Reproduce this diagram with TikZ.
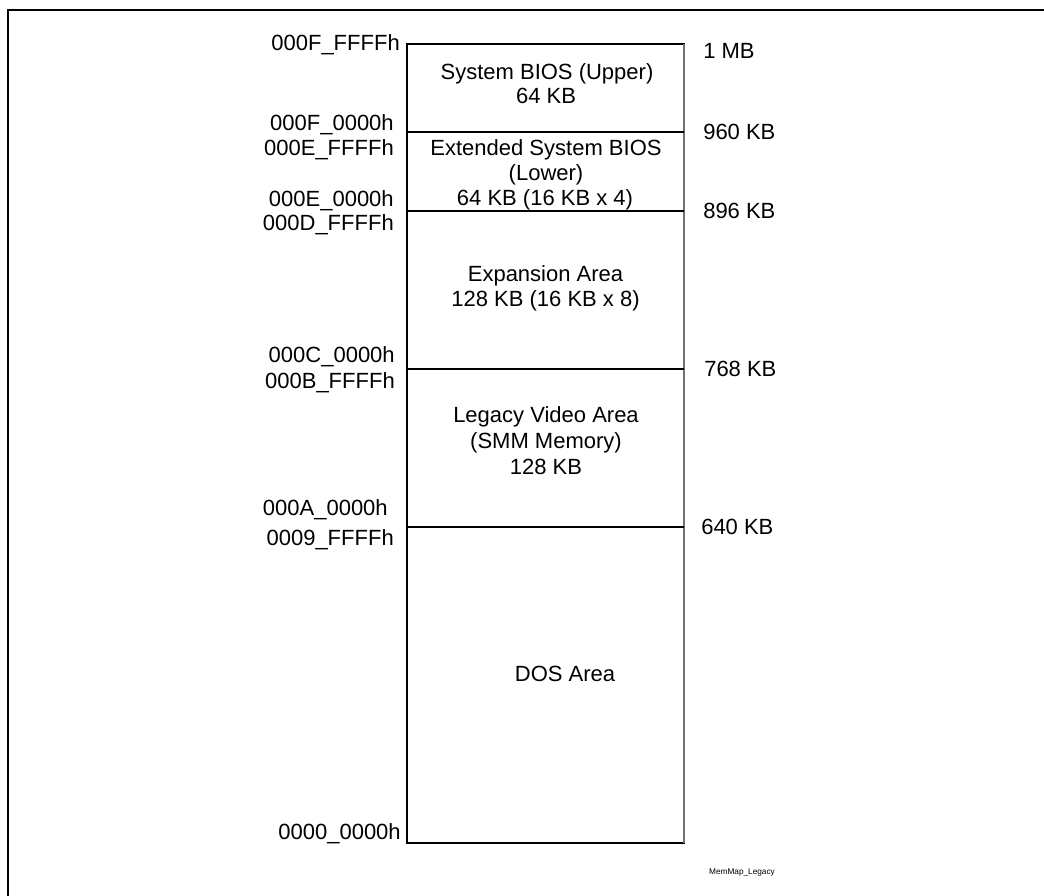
\documentclass[tikz,border=0pt]{standalone}
\usepackage{fontspec}
\setmainfont{Liberation Sans}
\begin{document}
\begin{tikzpicture}[x=0.75pt,y=-0.75pt,
  lbl/.style={inner sep=0pt, font=\fontsize{16.5}{18.75}\selectfont},
  addrl/.style={lbl, anchor=base east},
  addrr/.style={lbl, anchor=base west},
  areatxt/.style={lbl, anchor=base},
  memline/.style={line width=0.8pt, draw=black}]
\useasboundingbox (0,0) rectangle (1044,895);
% outer frame (open at right and bottom)
\draw[line width=1.6pt, line join=miter] (8,897) -- (8,10) -- (1046,10);
% memory map column
\draw[memline] (407,44) rectangle (684,843);
\draw[line width=1.4pt, draw=black!55] (684,44) -- (684,843);
\draw[memline] (407,132) -- (684,132);
\draw[memline] (407,211) -- (684,211);
\draw[memline] (407,369) -- (684,369);
\draw[memline] (407,527) -- (684,527);
% region texts
\node[areatxt] (bios1) at (547,80) {System BIOS (Upper)};
\node[areatxt] (bios2) at (546,104) {64 KB};
\node[areatxt] (ext1) at (546,155.5) {Extended System BIOS};
\node[areatxt] (ext2) at (546,180.5) {(Lower)};
\node[areatxt] (ext3) at (545,205.5) {64 KB (16 KB x 4)};
\node[areatxt] (exp1) at (545.5,281) {Expansion Area};
\node[areatxt] (exp2) at (545.5,306) {128 KB (16 KB x 8)};
\node[areatxt] (vid1) at (546,422) {Legacy Video Area};
\node[areatxt] (vid2) at (546,448) {(SMM Memory)};
\node[areatxt] (vid3) at (546,474) {128 KB};
\node[areatxt] (dos) at (565,681) {DOS Area};
% addresses (left)
\node[addrl] (a1) at (400,51) {000F\_FFFFh};
\node[addrl] (a2) at (394,131) {000F\_0000h};
\node[addrl] (a3) at (394,156) {000E\_FFFFh};
\node[addrl] (a4) at (394,206) {000E\_0000h};
\node[addrl] (a5) at (394,230) {000D\_FFFFh};
\node[addrl] (a6) at (395,362) {000C\_0000h};
\node[addrl] (a7) at (395,388) {000B\_FFFFh};
\node[addrl] (a8) at (388,515.5) {000A\_0000h};
\node[addrl] (a9) at (394,545) {0009\_FFFFh};
\node[addrl] (a10) at (401,839) {0000\_0000h};
% sizes (right)
\node[addrr] (s1) at (703,59) {1 MB};
\node[addrr] (s2) at (703,139) {960 KB};
\node[addrr] (s3) at (703,218) {896 KB};
\node[addrr] (s4) at (704,376) {768 KB};
\node[addrr] (s5) at (701,534) {640 KB};
% figure tag
\node[inner sep=0pt, font=\fontsize{6.2}{7}\selectfont] (tag) at (742,873) {MemMap\_Legacy};
\end{tikzpicture}
\end{document}
